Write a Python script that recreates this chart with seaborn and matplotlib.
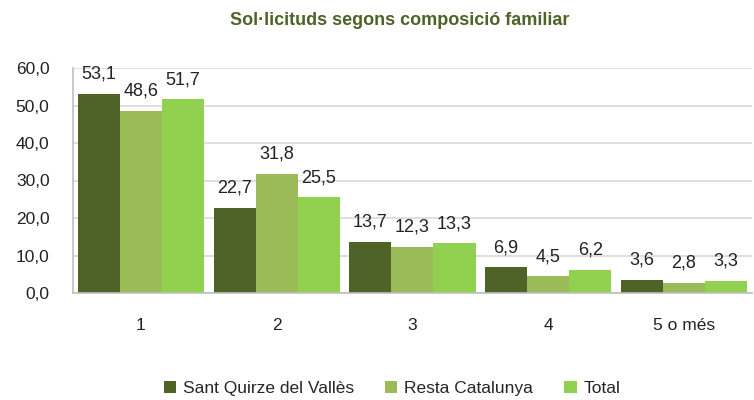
import pandas as pd
import seaborn as sns
import matplotlib.pyplot as plt
from matplotlib.ticker import FuncFormatter

# data
categories = ["1", "2", "3", "4", "5 o més"]
sant_quirze = [53.1, 22.7, 13.7, 6.9, 3.6]
resta_catalunya = [48.6, 31.8, 12.3, 4.5, 2.8]
total = [51.7, 25.5, 13.3, 6.2, 3.3]
series_names = ["Sant Quirze del Vallès", "Resta Catalunya", "Total"]
colors = ["#4f6228", "#9bbb59", "#92d050"]

rows = []
for name, vals in zip(series_names, [sant_quirze, resta_catalunya, total]):
    for c, v in zip(categories, vals):
        rows.append({"Composició": c, "Serie": name, "Valor": v})
data = pd.DataFrame(rows)

sns.set_style("white")
plt.rcParams["font.family"] = ["Liberation Sans Narrow", "Liberation Sans", "DejaVu Sans"]

fig = plt.figure(figsize=(7.54, 4), dpi=100)
ax = fig.add_axes([0.097, 0.2675, 0.9, 0.5625])

sns.barplot(data=data, x="Composició", y="Valor", hue="Serie", palette=colors,
            width=0.93, gap=0, saturation=1, linewidth=0, ax=ax, legend=True)

# value labels
for cont in ax.containers:
    ax.bar_label(cont, labels=[f"{b.get_height():.1f}".replace(".", ",") for b in cont],
                 padding=8, fontsize=13, color="#222222")

ax.set_ylim(0, 60)
ax.set_xlim(-0.5, 4.5)
ax.set_yticks(range(0, 61, 10))
ax.yaxis.set_major_formatter(FuncFormatter(lambda v, p: f"{v:.1f}".replace(".", ",")))
ax.yaxis.grid(True, color="#d9d9d9", linewidth=1.2)
ax.set_axisbelow(True)
ax.set_xlabel("")
ax.set_ylabel("")

for s in ["top", "right"]:
    ax.spines[s].set_visible(False)
ax.spines["left"].set_color("#bfbfbf")
ax.spines["bottom"].set_color("#bfbfbf")
ax.spines["left"].set_linewidth(1.2)
ax.spines["bottom"].set_linewidth(1.2)

ax.tick_params(axis="y", length=0, pad=17, labelsize=12.5, labelcolor="#222222")
ax.tick_params(axis="x", which="major", length=0, pad=18, labelsize=12.5, labelcolor="#222222")
ax.set_xticks([i - 0.5 for i in range(6)], minor=True)
ax.tick_params(axis="x", which="minor", length=5, color="#bfbfbf", width=1.2)

ax.legend(loc="upper center", bbox_to_anchor=(0.47, -0.32), ncol=3, frameon=False,
          fontsize=12.5, handlelength=0.7, handleheight=0.7, handletextpad=0.4,
          columnspacing=1.8)

fig.text(0.53, 0.948, "Sol·licituds segons composició familiar", ha="center", va="center",
         fontsize=13, fontweight="bold", color="#4f6228")

plt.savefig("out.png", dpi=100)
